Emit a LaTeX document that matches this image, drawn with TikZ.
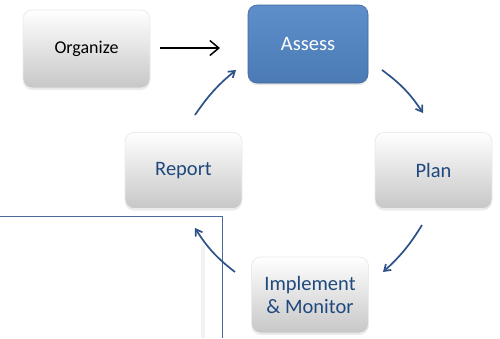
\documentclass[tikz,border=0pt]{standalone}
\usepackage{fontspec}
\setmainfont{Carlito}
\usetikzlibrary{arrows.meta,shadows}
\definecolor{txtblue}{HTML}{1F497D}
\definecolor{arrblue}{HTML}{2C5288}
\definecolor{boxblue}{HTML}{4F81BD}
\definecolor{boxblueTop}{HTML}{5E8FCB}
\definecolor{linblue}{HTML}{4A6A9C}
\tikzset{
  graybox/.style={rectangle, rounded corners=9pt, minimum width=#1, minimum height=76pt,
    top color=white, bottom color=black!22, draw=black!8, line width=0.8pt,
    drop shadow={shadow xshift=0pt, shadow yshift=-2pt, opacity=0.15},
    text=txtblue, font=\fontsize{20.5}{23.5}\selectfont, align=center, inner sep=0pt},
  graybox/.default=117pt,
  bluebox/.style={rectangle, rounded corners=9pt, minimum width=120pt, minimum height=78pt,
    top color=boxblueTop, bottom color=boxblue!95!black, draw=boxblue!80!black, line width=0.6pt,
    drop shadow={shadow xshift=0pt, shadow yshift=-2pt, opacity=0.2},
    text=white, font=\fontsize{20.5}{23.5}\selectfont, inner sep=0pt},
  cyc/.style={draw=arrblue, line width=1.7pt, -{Straight Barb[length=6pt,width=8pt]}},
  flow/.style={draw=black, line width=1.5pt, -{Straight Barb[length=9pt,width=15pt]}},
}
\begin{document}
\begin{tikzpicture}[x=1pt,y=-1pt]
\useasboundingbox (0,0) rectangle (500,338);
% frame lines
\draw[black!5, line width=4pt] (203,245) -- (203,338);
\draw[linblue, line width=0.9pt] (0,216.5) -- (222,216.5) -- (222,338);
% boxes
\node[graybox=127pt, minimum height=78pt, text=black, font=\fontsize{18}{21}\selectfont] (org) at (86.5,49) {Organize};
\node[bluebox] (ass) at (308,44) {Assess};
\node[graybox] (rep) at (183.5,170.5) {Report};
\node[graybox] (pla) at (433.5,170.5) {Plan};
\node[graybox] (imp) at (310,295) {Implement\\\& Monitor};
% arrow ends
\coordinate (a1s) at (195,115);
\coordinate (a1e) at (236,70);
\coordinate (a2s) at (382,70);
\coordinate (a2e) at (423,113);
\coordinate (a3s) at (422,225);
\coordinate (a3e) at (383,272);
\coordinate (a4s) at (235,272);
\coordinate (a4e) at (195,228);
\coordinate (fs) at (160,48);
\coordinate (fe) at (220,48);
\draw[flow] (fs) -- (fe);
\draw[cyc] (a1s) to[bend left=8] (a1e);
\draw[cyc] (a2s) to[bend left=10] (a2e);
\draw[cyc] (a3s) to[bend left=8] (a3e);
\draw[cyc] (a4s) to[bend left=10] (a4e);
\end{tikzpicture}
\end{document}
